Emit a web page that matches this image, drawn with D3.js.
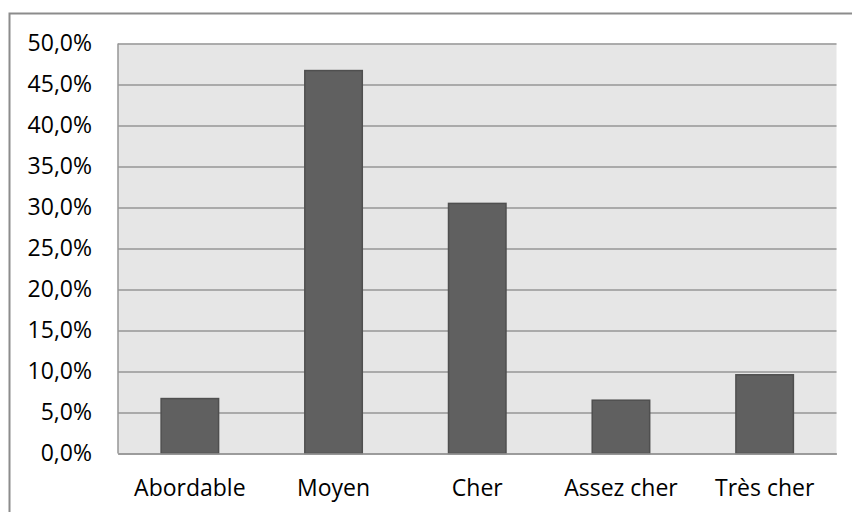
<!DOCTYPE html>
<html>
<head>
<meta charset="utf-8">
<script src="https://cdn.jsdelivr.net/npm/d3@7"></script>
<style>
  body { margin: 0; background: #fff; }
  svg { display: block; }
</style>
</head>
<body>
<div id="chart"></div>
<script>
/* Price perception bar chart */

const categories = ["Abordable", "Moyen", "Cher", "Assez cher", "Très cher"];
const values = [6.7, 46.7, 30.5, 6.5, 9.6];
const yTicks = [0, 5, 10, 15, 20, 25, 30, 35, 40, 45, 50];

const width = 852, height = 512;
const margin = { top: 43.5, right: 15.5, bottom: 58.5, left: 118 };

const svg = d3.select("#chart")
  .append("svg")
  .attr("width", width)
  .attr("height", height)
  .style("font-family", "'Open Sans', sans-serif");

// Outer frame
svg.append("rect")
  .attr("x", 9.5)
  .attr("y", 13.5)
  .attr("width", 852)
  .attr("height", 520)
  .attr("fill", "none")
  .attr("stroke", "#8c8c8c")
  .attr("stroke-width", 2);

const x = d3.scaleBand()
  .domain(categories)
  .range([margin.left, width - margin.right])
  .paddingInner(0.6)
  .paddingOuter(0.3);

const y = d3.scaleLinear()
  .domain([0, 50])
  .range([height - margin.bottom, margin.top]);

// Plot background
svg.append("rect")
  .attr("x", margin.left)
  .attr("y", margin.top)
  .attr("width", width - margin.right - margin.left)
  .attr("height", height - margin.bottom - margin.top)
  .attr("fill", "#e6e6e6");

// Grid lines and y labels
svg.append("g")
  .attr("transform", `translate(${margin.left}, 0)`)
  .call(d3.axisLeft(y).tickValues(yTicks)
    .tickSize(-(width - margin.left - margin.right))
    .tickPadding(26)
    .tickFormat(d => d3.format(".1f")(d).replace(".", ",") + "%"))
  .call(g => g.selectAll("line").attr("stroke", "#969696").attr("stroke-width", 1.5))
  .call(g => g.select(".domain").attr("stroke", "#969696").attr("stroke-width", 1.5)
    .attr("d", `M0,${height - margin.bottom}V${margin.top}`))
  .call(g => g.selectAll("text").attr("fill", "#000").attr("font-size", 23)
    .attr("font-family", "'Open Sans', sans-serif"));

// Bars
svg.selectAll(".bar")
  .data(values)
  .join("rect")
  .attr("class", "bar")
  .attr("x", (d, i) => x(categories[i]))
  .attr("y", d => y(d))
  .attr("width", x.bandwidth())
  .attr("height", d => y(0) - y(d))
  .attr("fill", "#606060")
  .attr("stroke", "#4f4f4f")
  .attr("stroke-width", 1.5);

// X axis
svg.append("g")
  .attr("transform", `translate(0, ${height - margin.bottom})`)
  .call(d3.axisBottom(x).tickSize(0).tickPadding(26))
  .call(g => g.select(".domain").attr("stroke", "#969696").attr("stroke-width", 1.5))
  .call(g => g.selectAll("text").attr("fill", "#000").attr("font-size", 23)
    .attr("font-family", "'Open Sans', sans-serif"));
</script>
</body>
</html>
